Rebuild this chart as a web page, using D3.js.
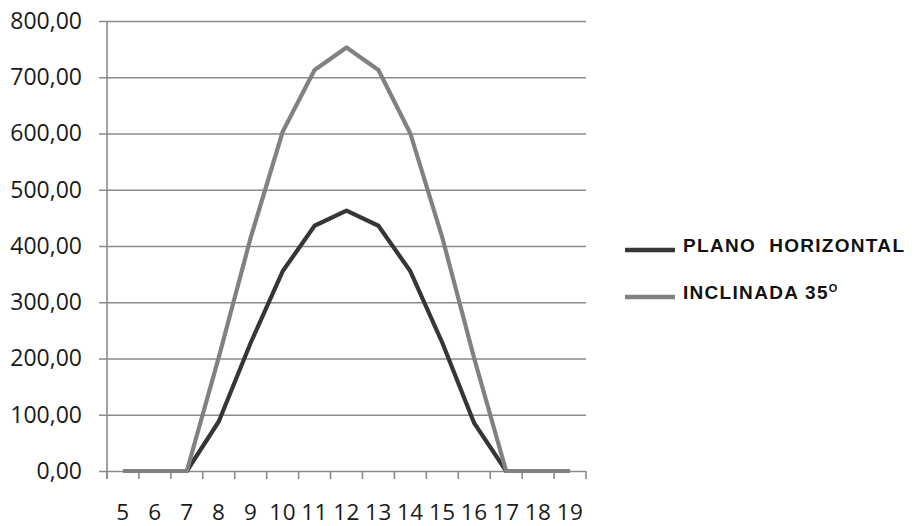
<!DOCTYPE html>
<html>
<head>
<meta charset="utf-8">
<script src="https://cdn.jsdelivr.net/npm/d3@7"></script>
<style>
  body { margin: 0; background: #fff; }
  svg { display: block; }
</style>
</head>
<body>
<svg id="chart" width="914" height="526"></svg>
<script>
// hours of the day
const hours = [5, 6, 7, 8, 9, 10, 11, 12, 13, 14, 15, 16, 17, 18, 19];
// irradiance, horizontal plane
const planoHorizontal = [0, 0, 0, 88, 228, 355, 436, 463, 436, 355, 228, 85, 0, 0, 0];
// irradiance, plane tilted 35 degrees
const inclinada35 = [0, 0, 0, 202, 415, 603, 713, 753, 713, 600, 415, 200, 0, 0, 0];
const yTicks = [0, 100, 200, 300, 400, 500, 600, 700, 800];
const seriesNames = ['PLANO  HORIZONTAL', 'INCLINADA 35'];

const svg = d3.select('svg#chart'),
    plotLeft = 107,
    plotRight = 586,
    plotTop = 21,
    plotBottom = 471;

const gridColor = '#8a8a8a',
    labelColor = '#1a1a1a',
    darkColor = '#363636',
    lightColor = '#818181';

const x = d3.scaleBand().domain(hours).range([plotLeft, plotRight]);
const y = d3.scaleLinear().domain([0, 800]).range([plotBottom, plotTop]);

// gridlines + y labels
const yAxis = d3.axisLeft(y)
    .tickValues(yTicks)
    .tickSize(-(plotRight - plotLeft))
    .tickSizeOuter(0)
    .tickPadding(25)
    .tickFormat(d => d3.format('.2f')(d).replace('.', ','));

const gy = svg.append('g')
    .attr('transform', `translate(${plotLeft},0)`)
    .call(yAxis);
gy.select('.domain').remove();
gy.selectAll('.tick line')
    .attr('x1', -8)
    .attr('stroke', gridColor)
    .attr('stroke-width', 1.6);
gy.selectAll('.tick text')
    .attr('fill', labelColor)
    .style('font-family', '"Open Sans", sans-serif')
    .style('font-size', '23px');

// vertical axis line
svg.append('line')
    .attr('x1', plotLeft).attr('x2', plotLeft)
    .attr('y1', plotTop).attr('y2', plotBottom + 8)
    .attr('stroke', gridColor)
    .attr('stroke-width', 1.6);

// x axis: ticks between categories
const xTickPos = hours.map(h => x(h)).concat([plotRight]);
svg.append('g')
    .selectAll('line')
    .data(xTickPos)
    .join('line')
    .attr('x1', d => d).attr('x2', d => d)
    .attr('y1', plotBottom).attr('y2', plotBottom + 8)
    .attr('stroke', gridColor)
    .attr('stroke-width', 1.6);

svg.append('g')
    .selectAll('text')
    .data(hours)
    .join('text')
    .text(d => d)
    .attr('x', d => x(d) + x.bandwidth() / 2)
    .attr('y', 520)
    .attr('text-anchor', 'middle')
    .attr('fill', labelColor)
    .style('font-family', '"Open Sans", sans-serif')
    .style('font-size', '22.5px')
    .style('letter-spacing', '0.5px');

// series lines
const line = d3.line()
    .x((d, i) => x(hours[i]) + x.bandwidth() / 2)
    .y(d => y(d));

svg.append('path')
    .datum(planoHorizontal)
    .attr('d', line)
    .attr('fill', 'none')
    .attr('stroke', darkColor)
    .attr('stroke-width', 4.2)
    .attr('stroke-linejoin', 'round');

svg.append('path')
    .datum(inclinada35)
    .attr('d', line)
    .attr('fill', 'none')
    .attr('stroke', lightColor)
    .attr('stroke-width', 4.2)
    .attr('stroke-linejoin', 'round');

// legend
const legend = svg.append('g');
const legendColors = [darkColor, lightColor];
const legendY = [250, 297];
seriesNames.forEach((name, i) => {
    legend.append('line')
        .attr('x1', 625).attr('x2', 675)
        .attr('y1', legendY[i]).attr('y2', legendY[i])
        .attr('stroke', legendColors[i])
        .attr('stroke-width', 4.5);
    const t = legend.append('text')
        .attr('x', 683)
        .attr('y', legendY[i] + 2)
        .attr('fill', '#111')
        .style('font-family', '"Liberation Sans", Arial, sans-serif')
        .style('font-weight', 'bold')
        .style('font-size', '19px')
        .style('letter-spacing', '1.3px')
        .style('white-space', 'pre')
        .text(name);
    if (i === 1) {
        t.append('tspan')
            .attr('dy', -7)
            .style('font-size', '11px')
            .style('letter-spacing', '0px')
            .text('O');
    }
});
</script>
</body>
</html>
